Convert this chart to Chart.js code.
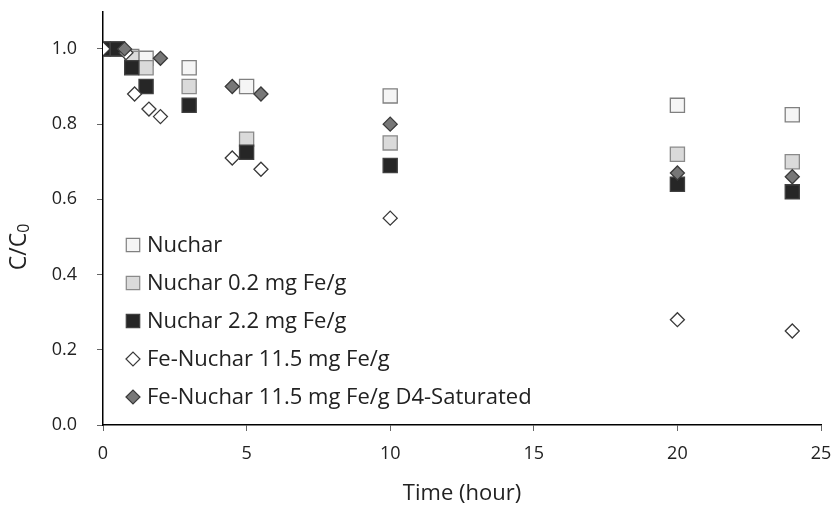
<!DOCTYPE html>
<html>
<head>
<meta charset="utf-8">
<script src="https://cdn.jsdelivr.net/npm/chart.js@4.4.1/dist/chart.umd.min.js"></script>
<style>
  html, body { margin: 0; padding: 0; background: #fff; }
  #wrap { width: 835px; height: 508px; position: relative; }
</style>
</head>
<body>
<div id="wrap"><canvas id="mycanvas" width="835" height="508"></canvas></div>
<script>
// sampling times (hour)
var squareTimes = [0, 0.5, 1, 1.5, 3, 5, 10, 20, 24];
var nuchar      = [1.0, 1.0, 0.98, 0.975, 0.95, 0.90, 0.875, 0.85, 0.825];
var nuchar02    = [1.0, 1.0, 0.975, 0.95, 0.90, 0.76, 0.75, 0.72, 0.70];
var nuchar22    = [1.0, 1.0, 0.95, 0.90, 0.85, 0.725, 0.69, 0.64, 0.62];

var feTimes   = [0, 0.8, 1.1, 1.6, 2, 4.5, 5.5, 10, 20, 24];
var feNuchar  = [1.0, 0.99, 0.88, 0.84, 0.82, 0.71, 0.68, 0.55, 0.28, 0.25];

var d4Times   = [0.75, 2, 4.5, 5.5, 10, 20, 24];
var feNucharD4 = [1.0, 0.975, 0.90, 0.88, 0.80, 0.67, 0.66];

var seriesNames = ['Nuchar', 'Nuchar 0.2 mg Fe/g', 'Nuchar 2.2 mg Fe/g',
                   'Fe-Nuchar 11.5 mg Fe/g', 'Fe-Nuchar 11.5 mg Fe/g D4-Saturated'];
var xTicks = [0, 5, 10, 15, 20, 25];
var yTicks = [0, 0.2, 0.4, 0.6, 0.8, 1.0];

var FONT = '"Open Sans", "Noto Sans", sans-serif';

function pts(xs, ys) {
  var out = [];
  for (var i in ys) out.push({x: xs[i], y: ys[i]});
  return out;
}

var styles = [
  {style: 'rect',    radius: 10, fill: '#f5f5f5', line: '#808080'},
  {style: 'rect',    radius: 10, fill: '#dadada', line: '#8a8a8a'},
  {style: 'rect',    radius: 10, fill: '#262626', line: '#404040'},
  {style: 'rectRot', radius: 7,  fill: '#ffffff', line: '#3a3a3a'},
  {style: 'rectRot', radius: 7,  fill: '#777777', line: '#3a3a3a'}
];
var seriesData = [
  pts(squareTimes, nuchar),
  pts(squareTimes, nuchar02),
  pts(squareTimes, nuchar22),
  pts(feTimes, feNuchar),
  pts(d4Times, feNucharD4)
];

var datasets = [];
for (var i = 0; i < seriesNames.length; i++) {
  datasets.push({
    label: seriesNames[i],
    data: seriesData[i],
    showLine: false,
    pointStyle: styles[i].style,
    pointRadius: styles[i].radius,
    pointHoverRadius: styles[i].radius,
    pointBackgroundColor: styles[i].fill,
    pointBorderColor: styles[i].line,
    pointBorderWidth: 1.3,
    order: seriesNames.length - 1 - i   // later series on top
  });
}

// legend box inside the plot + y axis title with subscript
var extras = {
  id: 'extras',
  afterDraw: function(chart) {
    var ctx = chart.ctx;
    ctx.save();
    ctx.font = '22px ' + FONT;
    ctx.textBaseline = 'middle';
    for (var i = 0; i < seriesNames.length; i++) {
      var y = 245 + i * 38;
      var s = styles[i];
      ctx.fillStyle = s.fill;
      ctx.strokeStyle = s.line;
      ctx.lineWidth = 1.2;
      Chart.helpers.drawPoint(ctx, {pointStyle: s.style, radius: s.style == 'rect' ? 9.5 : 7, rotation: 0, borderWidth: 1.2}, 133, y);
      ctx.fillStyle = '#222';
      ctx.fillText(seriesNames[i], 147, y + 1);
    }
    // C/C0
    ctx.translate(19, 247);
    ctx.rotate(-Math.PI / 2);
    ctx.textBaseline = 'middle';
    ctx.textAlign = 'left';
    ctx.font = '23px ' + FONT;
    var w1 = ctx.measureText('C/C').width;
    ctx.font = '16px ' + FONT;
    var w2 = ctx.measureText('0').width;
    var x0 = -(w1 + w2) / 2;
    ctx.font = '23px ' + FONT;
    ctx.fillText('C/C', x0, 0);
    ctx.font = '16px ' + FONT;
    ctx.fillText('0', x0 + w1, 5);
    ctx.restore();
  }
};

function noPad(s) {
  s.paddingTop = 0; s.paddingBottom = 0;
  s.paddingLeft = 0; s.paddingRight = 0;
}

var ctx = document.getElementById('mycanvas');
var chart = new Chart(ctx, {
  type: 'scatter',
  data: {datasets: datasets},
  options: {
    responsive: false,
    animation: false,
    layout: {padding: {top: 11, right: 14, left: 0, bottom: 0}},
    plugins: {legend: {display: false}, tooltip: {enabled: false}},
    scales: {
      x: {
        type: 'linear',
        min: 0, max: 25,
        afterFit: function(s) { s.height = 83; noPad(s); },
        afterBuildTicks: function(s) { s.ticks = xTicks.map(function(v) { return {value: v}; }); },
        border: {display: true, color: '#000', width: 1.5},
        grid: {drawOnChartArea: false, drawTicks: true, tickLength: 6, color: '#666'},
        ticks: {padding: 12, color: '#222', font: {family: FONT, size: 18}},
        title: {display: true, text: 'Time (hour)', color: '#222', font: {family: FONT, size: 22}, padding: {top: 0, bottom: 1}}
      },
      y: {
        min: 0, max: 1.1,
        afterFit: function(s) { s.width = 103; noPad(s); },
        afterBuildTicks: function(s) { s.ticks = yTicks.map(function(v) { return {value: v}; }); },
        border: {display: true, color: '#000', width: 1.5},
        grid: {drawOnChartArea: false, drawTicks: true, tickLength: 6, color: '#666'},
        ticks: {padding: 20, color: '#222', font: {family: FONT, size: 18},
                callback: function(v) { return v.toFixed(1); }}
      }
    }
  },
  plugins: [extras]
});
</script>
</body>
</html>
